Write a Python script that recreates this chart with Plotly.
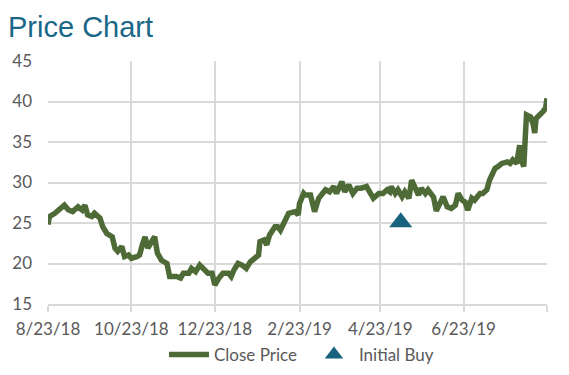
import plotly.graph_objects as go

# ---- data ----
dates = [
    "2018-08-23", "2018-08-24", "2018-08-28", "2018-09-01", "2018-09-04", "2018-09-07",
    "2018-09-10", "2018-09-14", "2018-09-17", "2018-09-19", "2018-09-21", "2018-09-24",
    "2018-09-26", "2018-09-30", "2018-10-02", "2018-10-05", "2018-10-09", "2018-10-11",
    "2018-10-13", "2018-10-16", "2018-10-18", "2018-10-21", "2018-10-23", "2018-10-27",
    "2018-10-29", "2018-10-31", "2018-11-02", "2018-11-04", "2018-11-07", "2018-11-09",
    "2018-11-11", "2018-11-14", "2018-11-18", "2018-11-20", "2018-11-25", "2018-11-28",
    "2018-11-30", "2018-12-04", "2018-12-06", "2018-12-09", "2018-12-12", "2018-12-15",
    "2018-12-18", "2018-12-21", "2018-12-23", "2018-12-26", "2018-12-29", "2019-01-02",
    "2019-01-04", "2019-01-06", "2019-01-09", "2019-01-12", "2019-01-15", "2019-01-18",
    "2019-01-21", "2019-01-24", "2019-01-25", "2019-01-28", "2019-01-30", "2019-02-01",
    "2019-02-05", "2019-02-07", "2019-02-09", "2019-02-12", "2019-02-15", "2019-02-20",
    "2019-02-22", "2019-02-23", "2019-02-26", "2019-02-27", "2019-03-03", "2019-03-06",
    "2019-03-09", "2019-03-14", "2019-03-17", "2019-03-20", "2019-03-22", "2019-03-26",
    "2019-03-28", "2019-03-31", "2019-04-03", "2019-04-06", "2019-04-09", "2019-04-13",
    "2019-04-16", "2019-04-18", "2019-04-22", "2019-04-25", "2019-04-28", "2019-04-30",
    "2019-05-01", "2019-05-04", "2019-05-06", "2019-05-09", "2019-05-11", "2019-05-14",
    "2019-05-16", "2019-05-18", "2019-05-21", "2019-05-23", "2019-05-26", "2019-05-28",
    "2019-06-01", "2019-06-03", "2019-06-06", "2019-06-08", "2019-06-11", "2019-06-14",
    "2019-06-17", "2019-06-19", "2019-06-22", "2019-06-24", "2019-06-26", "2019-06-29",
    "2019-07-01", "2019-07-05", "2019-07-07", "2019-07-10", "2019-07-12", "2019-07-14",
    "2019-07-16", "2019-07-18", "2019-07-21", "2019-07-25", "2019-07-27", "2019-07-29",
    "2019-08-01", "2019-08-02", "2019-08-03", "2019-08-04", "2019-08-06", "2019-08-08",
    "2019-08-11", "2019-08-13", "2019-08-14", "2019-08-15", "2019-08-18", "2019-08-20",
    "2019-08-22", "2019-08-23",
]
close_price = [
    24.8, 25.8, 26.2, 26.8, 27.2, 26.6,
    26.4, 27.0, 26.6, 27.2, 26.0, 25.8,
    26.2, 25.6, 24.55, 23.7, 23.3, 21.9,
    21.5, 22.1, 20.85, 21.05, 20.65, 20.85,
    21.05, 22.3, 23.3, 21.9, 22.9, 23.3,
    21.3, 20.4, 20.0, 18.4, 18.4, 18.2,
    18.8, 18.8, 19.4, 19.0, 19.8, 19.2,
    18.8, 18.8, 17.35, 18.2, 18.8, 18.8,
    18.4, 19.2, 20.0, 19.8, 19.4, 20.2,
    20.65, 21.05, 22.7, 22.9, 22.3, 23.5,
    24.55, 24.55, 24.1, 25.2, 26.2, 26.4,
    26.0, 27.4, 28.65, 28.45, 28.45, 26.4,
    28.05, 29.1, 28.85, 29.5, 28.65, 30.1,
    28.85, 29.7, 28.65, 29.3, 29.3, 29.5,
    28.45, 28.05, 28.65, 28.65, 29.1, 28.85,
    29.5, 28.65, 29.1, 28.25, 28.85, 28.05,
    30.3, 29.5, 28.45, 29.3, 28.65, 29.1,
    28.2, 26.5, 27.8, 28.25, 27.0, 26.8,
    27.2, 28.65, 27.8, 27.6, 26.6, 28.05,
    27.8, 28.65, 28.65, 29.1, 30.3, 31.1,
    31.75, 31.95, 32.35, 32.55, 32.35, 32.8,
    32.35, 33.6, 34.6, 32.95, 31.95, 38.35,
    38.1, 37.1, 36.1, 37.9, 38.35, 38.75,
    39.2, 40.4,
]
buy_dates = ["2019-05-08"]
buy_price = [25.1]

tick_dates = ["2018-08-23", "2018-10-23", "2018-12-23", "2019-02-23",
              "2019-04-23", "2019-06-23", "2019-08-23"]
tick_labels = ["8/23/18", "10/23/18", "12/23/18", "2/23/19", "4/23/19", "6/23/19", ""]
y_ticks = [15, 20, 25, 30, 35, 40, 45]

# ---- figure ----
fig = go.Figure()
fig.add_trace(go.Scatter(
    x=dates, y=close_price, mode="lines", name="Close Price",
    line=dict(color="#4E6B37", width=5.5),
))
fig.add_trace(go.Scatter(
    x=buy_dates, y=buy_price, mode="markers", name="Initial Buy",
    marker=dict(symbol="triangle-up", size=20, color="#17627F"),
))

font_fam = "Lato, 'Liberation Sans', Arial, sans-serif"
fig.update_layout(
    width=569, height=375,
    margin=dict(l=48, r=22, t=61, b=71),
    paper_bgcolor="white", plot_bgcolor="white",
    title=dict(text="Price Chart", x=8/569, xanchor="left", xref="container",
               y=1 - 27/375, yanchor="middle", yref="container",
               font=dict(family="'Liberation Sans', Arial, sans-serif", size=29, color="#1A6787"),
               automargin=False),
    showlegend=True,
    legend=dict(orientation="h", x=0.523, xanchor="center", xref="paper",
                y=1 - 355/375, yanchor="middle", yref="container",
                font=dict(family=font_fam, size=17, color="#595959"),
                itemwidth=40, tracegroupgap=0, entrywidth=90),
    xaxis=dict(type="date", range=["2018-08-23", "2019-08-23"],
               tickvals=tick_dates, ticktext=tick_labels, automargin=False,
               showgrid=True, gridcolor="#D9D9D9", gridwidth=2,
               showline=True, linecolor="#D9D9D9", linewidth=2,
               ticks="outside", ticklen=6, tickcolor="#D9D9D9", tickwidth=2,
               ticklabelstandoff=3,
               tickfont=dict(family=font_fam, size=17, color="#595959"),
               zeroline=False, mirror=False),
    yaxis=dict(range=[15, 45], tickvals=y_ticks, automargin=False,
               showgrid=True, gridcolor="#D9D9D9", gridwidth=2,
               showline=False, ticks="", ticklabelstandoff=15,
               tickfont=dict(family=font_fam, size=17, color="#595959"),
               zeroline=False),
)

fig.write_html("out.html", config={"displayModeBar": False},
               post_script="document.body.style.margin='0px';")
